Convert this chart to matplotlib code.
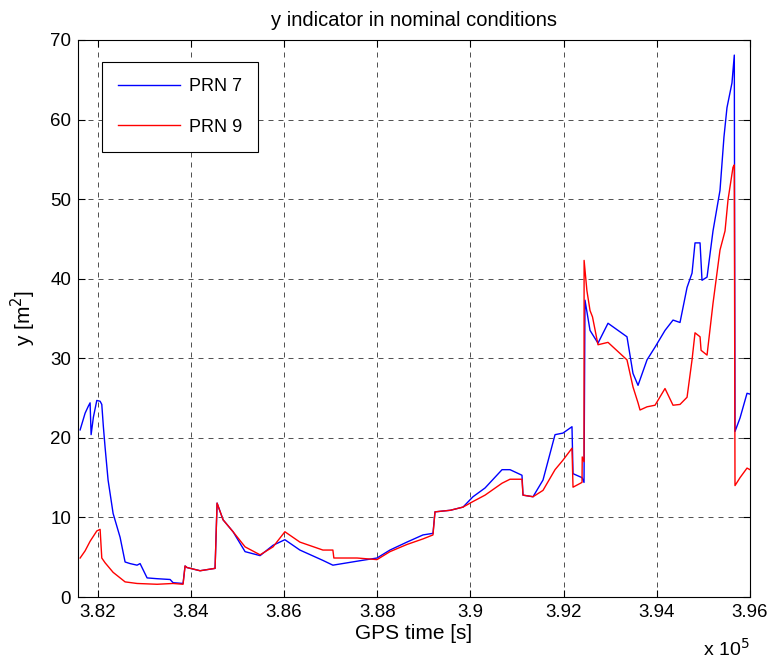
import matplotlib
matplotlib.use("Agg")
import matplotlib.pyplot as plt

plt.rcParams['font.family'] = ['Liberation Sans', 'DejaVu Sans']

# PRN 7 (blue)
t7 = [381625, 381732, 381803, 381839, 381861, 381910, 381983, 382054, 382090, 382124,
      382161, 382225, 382333, 382483, 382590, 382697, 382847, 382912, 383062, 383277,
      383556, 383620, 383834, 383877, 383920, 384199, 384521, 384564, 384693, 384907,
      385165, 385487, 385765, 386019, 386341, 386835, 387049, 387568, 387996, 388274,
      388638, 388982, 389197, 389240, 389571, 389842, 390056, 390314, 390679, 390850,
      391107, 391129, 391344, 391558, 391816, 391987, 392180, 392202, 392395, 392438,
      392459, 392567, 392738, 392953, 393360, 393489, 393597, 393790, 393962, 394176,
      394348, 394498, 394649, 394756, 394820, 394928, 394970, 395078, 395206, 395356,
      395441, 395506, 395613, 395663, 395678, 395786, 395936, 396000]
y7 = [21.0, 23.1, 24.0, 24.4, 20.4, 22.6, 24.7, 24.6, 24.2, 21.4,
      18.8, 14.7, 10.5, 7.5, 4.4, 4.2, 4.0, 4.2, 2.4, 2.3,
      2.2, 1.8, 1.7, 3.9, 3.7, 3.3, 3.6, 11.8, 9.7, 8.2,
      5.7, 5.2, 6.5, 7.2, 5.9, 4.6, 4.0, 4.5, 4.9, 5.9,
      6.9, 7.8, 8.0, 10.7, 10.9, 11.3, 12.6, 13.7, 16.0, 16.0,
      15.3, 12.8, 12.6, 14.7, 20.4, 20.6, 21.4, 15.5, 15.0, 14.4,
      37.3, 33.5, 31.9, 34.4, 32.7, 28.1, 26.6, 29.8, 31.4, 33.5,
      34.8, 34.5, 38.9, 40.7, 44.5, 44.5, 39.8, 40.2, 46.0, 51.1,
      57.8, 61.5, 64.6, 68.1, 20.8, 22.5, 25.6, 25.5]

# PRN 9 (red)
t9 = [381625, 381732, 381839, 381983, 382054, 382090, 382161, 382333, 382483, 382590,
      382847, 383277, 383620, 383834, 383877, 383920, 384199, 384521, 384564, 384693,
      384907, 385165, 385487, 385765, 386019, 386341, 386835, 387049, 387070, 387568,
      387996, 388274, 388638, 388982, 389197, 389240, 389571, 389842, 390056, 390314,
      390679, 390850, 391107, 391129, 391344, 391558, 391816, 391987, 392180, 392202,
      392395, 392400, 392438, 392440, 392500, 392567, 392620, 392738, 392953, 393360,
      393489, 393597, 393640, 393790, 393962, 394176, 394348, 394498, 394649, 394756,
      394820, 394928, 394950, 395078, 395206, 395356, 395464, 395528, 395635, 395663,
      395678, 395786, 395936, 396000]
y9 = [4.9, 5.8, 7.0, 8.3, 8.5, 4.9, 4.3, 3.1, 2.4, 1.9,
      1.7, 1.6, 1.7, 1.6, 3.9, 3.7, 3.3, 3.6, 11.8, 9.7,
      8.2, 6.3, 5.3, 6.3, 8.2, 6.9, 5.9, 5.9, 4.9, 4.9,
      4.7, 5.7, 6.6, 7.3, 7.8, 10.7, 10.9, 11.3, 12.0, 12.8,
      14.3, 14.8, 14.8, 12.8, 12.6, 13.4, 16.0, 17.2, 18.7, 13.8,
      14.4, 17.6, 17.0, 42.3, 38.5, 36.0, 35.2, 31.7, 32.0, 29.8,
      26.4, 24.4, 23.5, 23.9, 24.1, 26.2, 24.1, 24.2, 25.1, 29.8,
      33.2, 32.7, 31.0, 30.4, 36.9, 43.6, 46.0, 49.9, 54.0, 54.3,
      14.0, 15.0, 16.2, 16.0]

xticks = [382000, 384000, 386000, 388000, 390000, 392000, 394000, 396000]
xticklabels = ['3.82', '3.84', '3.86', '3.88', '3.9', '3.92', '3.94', '3.96']
yticks = [0, 10, 20, 30, 40, 50, 60, 70]

fig = plt.figure(figsize=(7.74, 6.64), dpi=100)
ax = fig.add_axes([0.1008, 0.1009, 0.8682, 0.8389])
ax.plot(t7, y7, color='#0000ff', lw=1.0, label='PRN 7')
ax.plot(t9, y9, color='#ff0000', lw=1.0, label='PRN 9')

ax.set_xlim(381580, 396000)
ax.set_ylim(0, 70)
ax.set_xticks(xticks)
ax.set_xticklabels(xticklabels)
ax.set_yticks(yticks)
ax.tick_params(direction='in', top=True, right=True, labelsize=13.5, length=5, pad=5)
ax.grid(True, color='black', linestyle=(0, (6, 6)), lw=0.6, alpha=0.8)
for s in ax.spines.values():
    s.set_linewidth(0.8)

ax.set_title('y indicator in nominal conditions', fontsize=14.5, pad=10)
ax.set_xlabel('GPS time [s]', fontsize=15, labelpad=2)
ax.set_ylabel('y [m$^2$]', fontsize=15, labelpad=9)
fig.text(0.908, 0.012, 'x 10$^5$', fontsize=14)

leg = ax.legend(loc='upper left', fontsize=13,
                fancybox=False, edgecolor='black', framealpha=1,
                handlelength=3.4, handletextpad=0.5, labelspacing=1.3,
                borderpad=0.9, borderaxespad=0)
leg.set_bbox_to_anchor((0.036, 0.9605), transform=ax.transAxes)
leg.get_frame().set_linewidth(0.8)

fig.savefig('out.png', dpi=100, facecolor='white')
